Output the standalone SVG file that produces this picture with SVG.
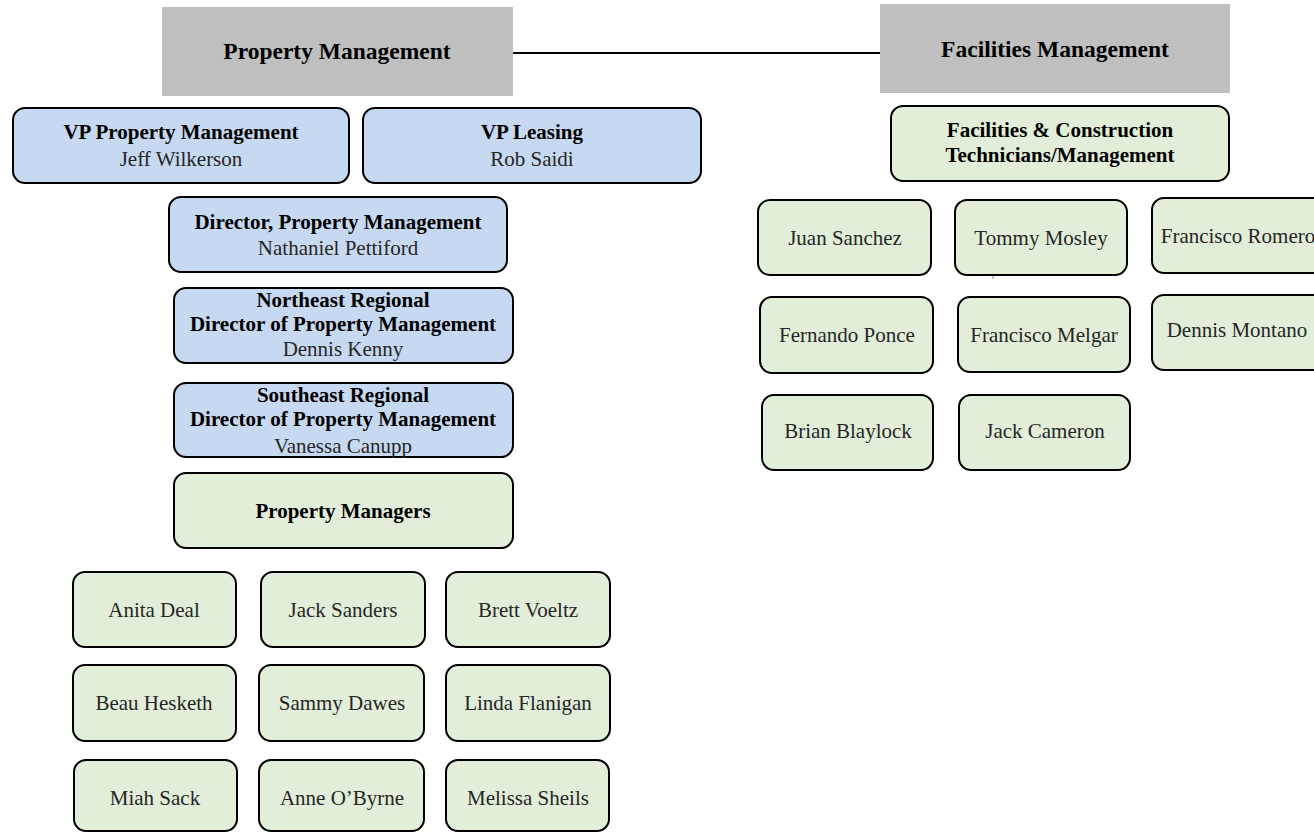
<svg xmlns="http://www.w3.org/2000/svg" width="1314" height="833" viewBox="0 0 1314 833">
<style>
.hdr{fill:#bfbfbf;stroke:none}
.blue{fill:#c6d9f1;stroke:#000;stroke-width:2}
.green{fill:#e2eed9;stroke:#000;stroke-width:2}
text{font-family:"Liberation Serif","Times New Roman",serif;font-size:21px;text-anchor:middle}
.h{font-size:23.5px}
.b{font-weight:bold;fill:#000}
.n{fill:#262626}
.conn{stroke:#000;stroke-width:2;fill:none}
</style>
<rect width="1314" height="833" fill="#fff"/>
<g id="connectors">
<line class="conn" x1="513" y1="53" x2="880" y2="53"/>
</g>
<g id="property-management"><rect class="hdr" x="162" y="7" width="351" height="89"/><text class="b h" x="337" y="59">Property Management</text></g>
<g id="facilities-management"><rect class="hdr" x="880" y="4" width="350" height="89"/><text class="b h" x="1055" y="57">Facilities Management</text></g>

<g id="vp-property-management"><rect class="blue" x="13" y="108" width="336" height="75" rx="12"/><text class="b" x="181" y="139">VP Property Management</text><text class="n" x="181" y="166">Jeff Wilkerson</text></g>
<g id="vp-leasing"><rect class="blue" x="363" y="108" width="338" height="75" rx="12"/><text class="b" x="532" y="139">VP Leasing</text><text class="n" x="532" y="166">Rob Saidi</text></g>
<g id="director-pm"><rect class="blue" x="169" y="197" width="338" height="75" rx="12"/><text class="b" x="338" y="229">Director, Property Management</text><text class="n" x="338" y="255">Nathaniel Pettiford</text></g>
<g id="northeast"><rect class="blue" x="174" y="288" width="339" height="75" rx="12"/><text class="b" x="343" y="307">Northeast Regional</text><text class="b" x="343" y="331">Director of Property Management</text><text class="n" x="343" y="356">Dennis Kenny</text></g>
<g id="southeast"><rect class="blue" x="174" y="383" width="339" height="74" rx="12"/><text class="b" x="343" y="402">Southeast Regional</text><text class="b" x="343" y="426">Director of Property Management</text><text class="n" x="343" y="453">Vanessa Canupp</text></g>
<g id="property-managers"><rect class="green" x="174" y="473" width="339" height="75" rx="12"/><text class="b" x="343" y="518">Property Managers</text></g>

<g id="anita-deal"><rect class="green" x="73" y="572" width="163" height="75" rx="12"/><text class="n" x="154" y="617">Anita Deal</text></g>
<g id="jack-sanders"><rect class="green" x="261" y="572" width="164" height="75" rx="12"/><text class="n" x="343" y="617">Jack Sanders</text></g>
<g id="brett-voeltz"><rect class="green" x="446" y="572" width="164" height="75" rx="12"/><text class="n" x="528" y="617">Brett Voeltz</text></g>
<g id="beau-hesketh"><rect class="green" x="73" y="665" width="163" height="76" rx="12"/><text class="n" x="154" y="710">Beau Hesketh</text></g>
<g id="sammy-dawes"><rect class="green" x="259" y="665" width="165" height="76" rx="12"/><text class="n" x="342" y="710">Sammy Dawes</text></g>
<g id="linda-flanigan"><rect class="green" x="446" y="665" width="164" height="76" rx="12"/><text class="n" x="528" y="710">Linda Flanigan</text></g>
<g id="miah-sack"><rect class="green" x="74" y="760" width="163" height="71" rx="12"/><text class="n" x="155" y="805">Miah Sack</text></g>
<g id="anne-obyrne"><rect class="green" x="259" y="760" width="165" height="71" rx="12"/><text class="n" x="342" y="805">Anne O’Byrne</text></g>
<g id="melissa-sheils"><rect class="green" x="446" y="760" width="163" height="71" rx="12"/><text class="n" x="528" y="805">Melissa Sheils</text></g>

<g id="facilities-construction"><rect class="green" x="891" y="106" width="338" height="75" rx="12"/><text class="b" x="1060" y="137">Facilities &amp; Construction</text><text class="b" x="1060" y="162">Technicians/Management</text></g>
<g id="juan-sanchez"><rect class="green" x="758" y="200" width="173" height="75" rx="12"/><text class="n" x="845" y="245">Juan Sanchez</text></g>
<g id="tommy-mosley"><rect class="green" x="955" y="200" width="172" height="75" rx="12"/><text class="n" x="1041" y="245">Tommy Mosley</text></g>
<g id="francisco-romero"><rect class="green" x="1152" y="198" width="174" height="75" rx="12"/><text class="n" x="1238" y="243">Francisco Romero</text></g>
<g id="fernando-ponce"><rect class="green" x="760" y="297" width="173" height="76" rx="12"/><text class="n" x="847" y="342">Fernando Ponce</text></g>
<g id="francisco-melgar"><rect class="green" x="958" y="297" width="172" height="75" rx="12"/><text class="n" x="1044" y="342">Francisco Melgar</text></g>
<g id="dennis-montano"><rect class="green" x="1152" y="295" width="174" height="75" rx="12"/><text class="n" x="1237" y="337">Dennis Montano</text></g>
<g id="brian-blaylock"><rect class="green" x="762" y="395" width="171" height="75" rx="12"/><text class="n" x="848" y="438">Brian Blaylock</text></g>
<g id="jack-cameron"><rect class="green" x="959" y="395" width="171" height="75" rx="12"/><text class="n" x="1045" y="438">Jack Cameron</text></g>
<line x1="993" y1="276" x2="993" y2="279" stroke="#888" stroke-width="1"/>
</svg>
